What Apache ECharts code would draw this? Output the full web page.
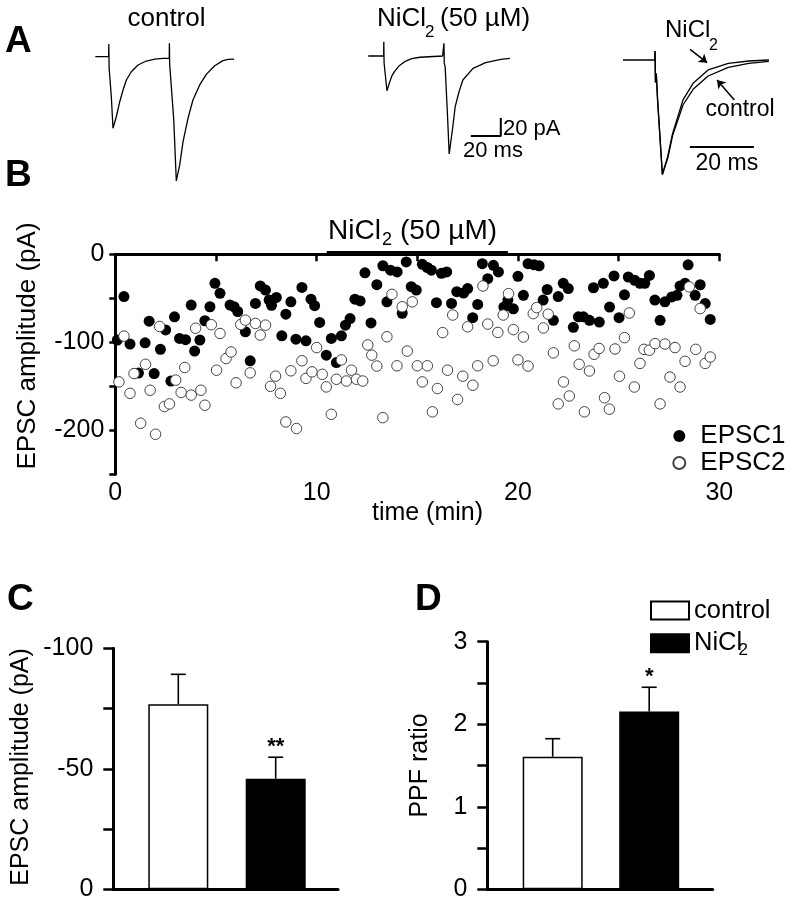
<!DOCTYPE html>
<html><head><meta charset="utf-8">
<script src="https://cdn.jsdelivr.net/npm/echarts@6/dist/echarts.min.js"></script>
<style>html,body{margin:0;padding:0;background:#fff}#c{width:793px;height:900px}</style>
</head><body><div id="c"></div>
<script>
const FONT = "'Liberation Sans', Arial, Helvetica, sans-serif";

// ---------- Panel A: example traces, [time (ms), current (pA)] ----------
const traceControl = [[0,0],[8.9,0],[9.0,14],[9.2,-12],[9.6,-12.6],[10.7,-45],[11.8,-79.6],[14,-66.7],[16.3,-50],[18.5,-37],[20.7,-25.9],[24,-16.7],[28.5,-9.2],[34,-4.8],[39.6,-2.6],[45.1,-1.8],[49.3,-1.8],[49.4,14.9],[49.6,-9],[50.7,-9.2],[52.3,-70],[54,-138],[56.3,-120],[58.5,-94.4],[61.8,-68.4],[65.1,-48.1],[69.6,-31.4],[74,-19.6],[79.6,-10],[85.1,-4.4],[88.5,-2.9],[92.5,-2.6]];
const traceNiCl2 = [[0,0],[10.3,0],[10.4,15.9],[10.6,-8],[11,-10],[12.5,-38.6],[14.3,-29],[15.8,-22],[17.5,-17.4],[20.5,-11],[24.3,-6.3],[29,-3],[34.5,-1.4],[49.6,0],[50.4,0],[50.5,14.2],[50.7,-8],[51.3,-12],[52.7,-60],[54,-108.9],[56.3,-80],[58,-56.3],[60.5,-40],[63.1,-26.7],[69.9,-13.7],[78.3,-7.4],[88.4,-3.7],[94.5,-2.6]];
const overlayNiCl2 = [[0,0],[9.9,0],[10.0,10],[10.15,-25],[10.4,-15],[10.8,-44],[12.3,-126.7],[13.97,-107.4],[15.5,-81.5],[18.75,-44.4],[21.9,-25.9],[26.6,-11.1],[32.9,-3.7],[39.3,-1.1],[45.6,0]];
const overlayControl = [[9.9,0],[10.0,10],[10.15,-25],[10.4,-15],[10.8,-44],[12.3,-127.5],[14,-109],[15.5,-84],[18.75,-50],[21.9,-32.6],[26.6,-17.8],[32.9,-8.1],[39.3,-3.7],[45.6,-1.5]];
const scaleBarA2 = [[68.4,-88.9],[88.4,-88.9],[88.4,-68.9]];   // 20 ms / 20 pA
const scaleBarA3 = [[20.9,-96.7],[40.9,-96.7]];                // 20 ms
const arrowNiCl2 = [[20.95,11.9],[26.3,-3]];
const arrowControl = [[34.8,-44.4],[29.4,-22.2]];

// ---------- Panel B: EPSC amplitude vs time, [min, pA] ----------
const epsc1 = [[0.1,-97.5],[0.43,-48],[0.73,-102],[1.15,-135],[1.48,-100.6],[1.68,-76],[1.93,-135.5],[2.24,-108],[2.5,-86],[2.76,-144],[2.94,-71],[3.19,-95.6],[3.49,-97],[3.77,-57.7],[3.94,-110],[4.2,-97.5],[4.45,-75.5],[4.7,-59.6],[4.95,-33],[5.2,-44.4],[5.7,-57.7],[5.9,-59.6],[6.08,-65],[6.46,-88],[6.7,-121],[6.96,-55.8],[7.2,-36],[7.46,-40.6],[7.64,-52],[7.76,-58],[8.0,-49],[8.27,-92.6],[8.47,-68],[8.72,-54],[8.97,-96.4],[9.27,-37.6],[9.47,-98.3],[9.72,-51],[9.9,-58.4],[10.15,-77.4],[10.48,-114.6],[10.73,-95.6],[10.98,-123],[11.23,-92.6],[11.43,-80.5],[11.66,-73],[11.9,-51],[12.16,-53],[12.4,-21],[12.7,-78],[12.99,-34.5],[13.29,-13],[13.49,-54],[13.67,-18],[14.0,-20],[14.25,-67],[14.45,-8.7],[14.7,-36.8],[14.95,-40.6],[15.25,-11.4],[15.5,-15],[15.7,-18],[15.95,-55],[16.2,-21.6],[16.46,-20],[16.7,-55.8],[16.96,-42.5],[17.3,-44],[17.5,-39],[17.75,-72],[18.0,-57],[18.23,-10.6],[18.5,-27.7],[18.78,-12.5],[19.03,-20],[19.3,-60],[19.5,-52],[19.77,-62],[20.0,-25],[20.27,-46.6],[20.5,-10.6],[20.8,-12],[21.05,-13],[21.25,-52],[21.45,-40],[21.76,-75],[22.0,-48],[22.25,-33],[22.5,-39],[22.75,-83],[23.0,-71],[23.25,-71],[23.55,-75],[23.75,-38],[24.04,-77],[24.24,-33],[24.55,-60],[24.77,-24.6],[25.02,-72],[25.29,-46],[25.48,-25.8],[25.8,-29.5],[26.06,-33],[26.3,-33],[26.53,-24],[26.8,-52],[27.06,-75],[27.3,-54],[27.64,-48.5],[27.9,-46.6],[28.05,-36],[28.3,-33],[28.45,-12],[28.8,-46.6],[29.05,-34.6],[29.3,-56],[29.55,-74]];
const epsc2 = [[0.18,-145],[0.43,-93],[0.73,-158],[0.93,-135.5],[1.26,-192],[1.5,-125],[1.73,-154.5],[2.0,-204.5],[2.2,-82],[2.44,-173],[2.69,-170],[3.0,-143],[3.27,-157],[3.45,-128.6],[3.77,-160],[3.99,-84],[4.25,-154.5],[4.45,-171.5],[4.77,-80],[5.03,-131.7],[5.2,-90],[5.5,-118.4],[5.75,-111],[6.0,-146],[6.23,-79.7],[6.46,-74.8],[6.7,-134.7],[6.96,-78.6],[7.2,-91.8],[7.46,-80.5],[7.71,-150],[7.96,-138.5],[8.2,-158],[8.47,-190.5],[8.72,-132.4],[9.0,-198],[9.27,-121],[9.47,-141],[9.77,-133.6],[10.0,-106],[10.28,-136.4],[10.48,-150.7],[10.73,-181.8],[10.98,-142],[11.23,-120],[11.48,-144],[11.73,-131.7],[11.98,-142],[12.29,-144],[12.54,-103],[12.74,-114.6],[12.99,-127],[13.29,-185.6],[13.49,-93.7],[13.74,-45.5],[13.99,-126.7],[14.25,-59.6],[14.5,-110],[14.75,-54],[15.0,-126.7],[15.25,-145],[15.5,-126.7],[15.75,-179],[16.0,-152.5],[16.26,-89],[16.5,-131.7],[16.76,-69],[17.0,-165],[17.26,-138.5],[17.5,-82.4],[17.76,-148.8],[18.0,-126.7],[18.26,-36],[18.5,-79.3],[18.77,-121],[19.0,-88.8],[19.27,-69],[19.53,-44.7],[19.77,-85.6],[20.0,-120],[20.27,-94],[20.5,-127],[20.76,-67.4],[20.93,-60.6],[21.26,-83.7],[21.5,-68],[21.76,-112],[22.0,-170],[22.26,-145],[22.55,-161],[22.8,-104],[23.04,-125],[23.3,-179],[23.55,-132.6],[23.78,-113.6],[24.03,-107],[24.3,-163],[24.54,-176],[24.82,-107.6],[25.04,-138.6],[25.29,-94.7],[25.53,-66.7],[25.78,-150.8],[26.06,-124],[26.26,-108],[26.53,-109],[26.81,-101.5],[27.06,-170],[27.3,-102],[27.55,-139.5],[27.8,-106],[28.05,-150.8],[28.3,-121.6],[28.51,-37],[28.83,-108],[29.05,-61.7],[29.3,-124],[29.55,-116.7]];
const drugPeriod = [10.5, 19.5];
const bXLabels = [0, 10, 20, 30];
const bYLabels = [0, -100, -200];

// ---------- Panels C and D: group means ----------
const groups = ['control', 'NiCl2'];
const cMean = [-76.8, -45.9];
const cSem = [12.4, 8.9];
const cSig = ['', '**'];
const cYLabels = [-100, -50, 0];
const dMean = [1.607, 2.153];
const dSem = [0.218, 0.295];
const dSig = ['', '*'];
const dYLabels = [0, 1, 2, 3];

// ---------- helpers ----------
const BLACK = '#000';
function T(text, x, y, size, o) {
  o = o || {};
  return {
    type: 'text', x: x, y: y, rotation: o.rot || 0, silent: true,
    style: {
      text: text, fontSize: size, fontFamily: FONT, fontWeight: o.bold ? 'bold' : 'normal',
      fill: BLACK, align: o.align || 'left', verticalAlign: 'middle'
    }
  };
}
function traceSeries(name, data, idx, extra) {
  return Object.assign({
    type: 'line', name: name, xAxisIndex: idx, yAxisIndex: idx, data: data,
    symbol: 'none', showSymbol: false, silent: true, clip: false,
    lineStyle: { color: BLACK, width: 1.3 }
  }, extra || {});
}
function hiddenAxes(idx, xmin, xmax, ymin, ymax) {
  return [
    { gridIndex: idx, type: 'value', min: xmin, max: xmax, show: false },
    { gridIndex: idx, type: 'value', min: ymin, max: ymax, show: false }
  ];
}
function labelFilter(list) { return function (v) { return list.indexOf(v) >= 0 ? String(v) : ''; }; }
const axisLineStyle = { show: true, lineStyle: { color: BLACK, width: 3 } };
function errSeries(idx, mean, sem, sig) {
  return {
    type: 'custom', xAxisIndex: idx, yAxisIndex: idx, silent: true, z: 5, clip: false,
    data: mean.map(function (m, i) { return [i, m, m + Math.sign(m) * sem[i]]; }),
    renderItem: function (params, api) {
      const i = params.dataIndex;
      const p1 = api.coord([api.value(0), api.value(1)]);
      const p2 = api.coord([api.value(0), api.value(2)]);
      return {
        type: 'group', children: [
          { type: 'line', shape: { x1: p1[0], y1: p1[1], x2: p2[0], y2: p2[1] }, style: { stroke: BLACK, lineWidth: 1.6 } },
          { type: 'line', shape: { x1: p2[0] - 7.5, y1: p2[1], x2: p2[0] + 7.5, y2: p2[1] }, style: { stroke: BLACK, lineWidth: 1.6 } },
          { type: 'text', x: p2[0], y: p2[1] - 10, style: { text: sig[i], fontSize: 22, fontWeight: 'bold', fontFamily: FONT, fill: BLACK, align: 'center', verticalAlign: 'middle' } }
        ]
      };
    }
  };
}

const chart = echarts.init(document.getElementById('c'), null, { renderer: 'canvas' });

const grids = [
  { left: 95.3, top: 38.7, width: 150, height: 153 },     // 0 A control
  { left: 368.2, top: 38, width: 150, height: 153 },      // 1 A NiCl2
  { left: 623, top: 42, width: 160, height: 153 },        // 2 A overlay
  { left: 115.3, top: 254.3, width: 604, height: 220 },   // 3 B
  { left: 113.3, top: 648.3, width: 224.7, height: 241 }, // 4 C frame
  { left: 129.6, top: 648.3, width: 194.8, height: 241 }, // 5 C bars
  { left: 487.3, top: 641.7, width: 225.4, height: 247.6 }, // 6 D frame
  { left: 504.45, top: 641.7, width: 193, height: 247.6 }   // 7 D bars
].map(function (g) { return Object.assign({ outerBoundsMode: 'none', containLabel: false }, g); });

const a0 = hiddenAxes(0, 0, 100, -150, 20);
const a1 = hiddenAxes(1, 0, 100, -150, 20);
const a2 = hiddenAxes(2, 0, 50, -150, 20);

const xAxes = [
  a0[0], a1[0], a2[0],
  { gridIndex: 3, type: 'value', min: 0, max: 30, interval: 5,
    axisLine: axisLineStyle, axisTick: { show: true, length: 7, lineStyle: { color: BLACK, width: 2.5 } },
    axisLabel: { fontSize: 25, fontFamily: FONT, color: BLACK, margin: 6, formatter: labelFilter(bXLabels) },
    splitLine: { show: false } },
  { gridIndex: 4, type: 'value', min: 0, max: 1, axisLine: axisLineStyle,
    axisTick: { show: false }, axisLabel: { show: false }, splitLine: { show: false } },
  { gridIndex: 5, type: 'category', data: groups, show: false },
  { gridIndex: 6, type: 'value', min: 0, max: 1, axisLine: axisLineStyle,
    axisTick: { show: false }, axisLabel: { show: false }, splitLine: { show: false } },
  { gridIndex: 7, type: 'category', data: groups, show: false }
];
const yAxes = [
  a0[1], a1[1], a2[1],
  { gridIndex: 3, type: 'value', min: -250, max: 0, interval: 50,
    axisLine: axisLineStyle, axisTick: { show: true, length: 6, lineStyle: { color: BLACK, width: 2.5 } },
    axisLabel: { fontSize: 25, fontFamily: FONT, color: BLACK, margin: 11, formatter: labelFilter(bYLabels) },
    splitLine: { show: false } },
  { gridIndex: 4, type: 'value', min: -100, max: 0, interval: 25, inverse: true,
    axisLine: axisLineStyle, axisTick: { show: true, length: 10, lineStyle: { color: BLACK, width: 2.5 } },
    axisLabel: { fontSize: 25, fontFamily: FONT, color: BLACK, margin: 20, formatter: labelFilter(cYLabels) },
    splitLine: { show: false } },
  { gridIndex: 5, type: 'value', min: -100, max: 0, inverse: true, show: false },
  { gridIndex: 6, type: 'value', min: 0, max: 3, interval: 0.5,
    axisLine: axisLineStyle, axisTick: { show: true, length: 10, lineStyle: { color: BLACK, width: 2.5 } },
    axisLabel: { fontSize: 25, fontFamily: FONT, color: BLACK, margin: 20, formatter: labelFilter(dYLabels) },
    splitLine: { show: false } },
  { gridIndex: 7, type: 'value', min: 0, max: 3, show: false }
];

const series = [
  traceSeries('trace control', traceControl, 0),
  traceSeries('trace NiCl2', traceNiCl2, 1),
  traceSeries('scale A2', scaleBarA2, 1, { lineStyle: { color: BLACK, width: 2 } }),
  traceSeries('overlay control', overlayControl, 2),
  traceSeries('overlay NiCl2', overlayNiCl2, 2, {
    markLine: {
      silent: true, symbol: ['none', 'arrow'], symbolSize: 8, label: { show: false },
      lineStyle: { color: BLACK, width: 1.5, type: 'solid' },
      data: [
        [{ coord: arrowNiCl2[0] }, { coord: arrowNiCl2[1] }],
        [{ coord: arrowControl[0] }, { coord: arrowControl[1] }]
      ]
    }
  }),
  traceSeries('scale A3', scaleBarA3, 2, { lineStyle: { color: BLACK, width: 2 } }),
  // Panel B
  traceSeries('drug period', drugPeriod.map(function (t) { return [t, 1.8]; }), 3, { lineStyle: { color: BLACK, width: 3.5 } }),
  { type: 'scatter', name: 'EPSC1', xAxisIndex: 3, yAxisIndex: 3, data: epsc1, symbol: 'circle', symbolSize: 11,
    itemStyle: { color: BLACK, opacity: 1 }, silent: true },
  { type: 'scatter', name: 'EPSC2', xAxisIndex: 3, yAxisIndex: 3, data: epsc2, symbol: 'circle', symbolSize: 10.5,
    itemStyle: { color: '#fff', borderColor: '#444', borderWidth: 1, opacity: 1 }, silent: true },
  // Panel C
  { type: 'bar', name: 'control', xAxisIndex: 5, yAxisIndex: 5, stack: 'c', barWidth: 60,
    data: [cMean[0], '-'], itemStyle: { color: '#fff', borderColor: BLACK, borderWidth: 1.5 }, silent: true },
  { type: 'bar', name: 'NiCl2', xAxisIndex: 5, yAxisIndex: 5, stack: 'c', barWidth: 60,
    data: ['-', cMean[1]], itemStyle: { color: BLACK, borderColor: BLACK, borderWidth: 1.5 }, silent: true },
  errSeries(5, cMean, cSem, cSig),
  // Panel D
  { type: 'bar', name: 'control', xAxisIndex: 7, yAxisIndex: 7, stack: 'd', barWidth: 60,
    data: [dMean[0], '-'], itemStyle: { color: '#fff', borderColor: BLACK, borderWidth: 1.5 }, silent: true },
  { type: 'bar', name: 'NiCl2', xAxisIndex: 7, yAxisIndex: 7, stack: 'd', barWidth: 60,
    data: ['-', dMean[1]], itemStyle: { color: BLACK, borderColor: BLACK, borderWidth: 1.5 }, silent: true },
  errSeries(7, dMean, dSem, dSig)
];

const graphics = [
  T('A', 5, 42, 37, { bold: true }),
  T('control', 166.5, 18.6, 26, { align: 'center' }),
  T('NiCl', 377, 18.6, 26), T('2', 425, 32, 17), T('(50 µM)', 440, 18.6, 26),
  T('NiCl', 665, 30.6, 24), T('2', 709, 46, 16),
  T('control', 705.6, 110, 23),
  T('20 pA', 503, 128.8, 22),
  T('20 ms', 463, 151, 22),
  T('20 ms', 695.5, 163.5, 23),
  T('B', 5, 176, 37, { bold: true }),
  T('NiCl', 328, 231.7, 28), T('2', 382, 240.5, 18), T('(50 µM)', 400, 231.7, 28),
  T('EPSC amplitude (pA)', 28, 346, 26, { align: 'center', rot: Math.PI / 2 }),
  T('time (min)', 427.5, 513, 25, { align: 'center' }),
  T('C', 7, 600, 37, { bold: true }),
  T('EPSC amplitude (pA)', 21, 767, 25, { align: 'center', rot: Math.PI / 2 }),
  T('D', 415, 600, 37, { bold: true }),
  T('PPF ratio', 420, 765.5, 25, { align: 'center', rot: Math.PI / 2 }),
  T('2', 738.5, 650, 17)
];

chart.setOption({
  animation: false,
  backgroundColor: '#fff',
  textStyle: { fontFamily: FONT, color: BLACK },
  grid: grids,
  xAxis: xAxes,
  yAxis: yAxes,
  legend: [
    { data: ['EPSC1', 'EPSC2'], orient: 'vertical', left: 667.3, top: 417.5, itemWidth: 32, itemHeight: 12,
      itemGap: 0, icon: 'circle', selectedMode: false,
      textStyle: { fontSize: 26, lineHeight: 27, fontFamily: FONT, color: BLACK } },
    { data: ['control', 'NiCl2'], orient: 'vertical', left: 645, top: 592.5, itemWidth: 38, itemHeight: 18,
      itemGap: 6.7, icon: 'rect', selectedMode: false,
      formatter: function (n) { return n === 'NiCl2' ? 'NiCl' : n; },
      textStyle: { fontSize: 25.5, lineHeight: 25, fontFamily: FONT, color: BLACK } }
  ],
  graphic: graphics,
  series: series
});
</script>
</body></html>
